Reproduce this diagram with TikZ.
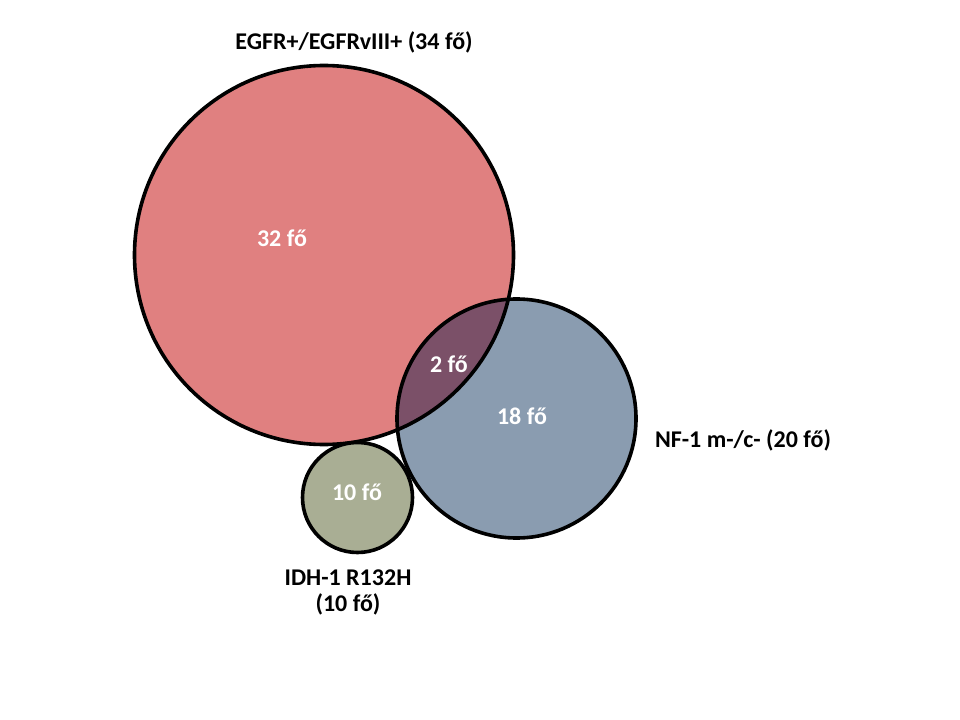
\documentclass[tikz,border=0pt]{standalone}
\usepackage{fontspec}
\setmainfont{Carlito}
\begin{document}
\begin{tikzpicture}[x=0.75pt,y=-0.75pt,
  circ/.style={line width=2.7pt,draw=black},
  lab/.style={font=\fontsize{18}{22}\selectfont\bfseries,text=black,align=center,inner sep=0pt},
  inlab/.style={font=\fontsize{18}{22}\selectfont\bfseries,text=white,inner sep=0pt}]
\useasboundingbox (0,0) rectangle (960,720);
\definecolor{redf}{HTML}{E08080}
\definecolor{bluef}{HTML}{8A9CB0}
\definecolor{purf}{HTML}{7B5068}
\definecolor{greenf}{HTML}{A9AE94}
\coordinate (cr) at (324,255);
\coordinate (cb) at (516.5,418.5);
\coordinate (cg) at (357.5,497.5);
\fill[redf] (cr) circle (189.5);
\fill[bluef] (cb) circle (119.5);
\begin{scope}
\clip (cr) circle (189.5);
\fill[purf] (cb) circle (119.5);
\end{scope}
\draw[circ] (cr) circle (189.5);
\draw[circ] (cb) circle (119.5);
\draw[circ,fill=greenf] (cg) circle (55);
\node[inlab] (n32) at (282,238) {32 fő};
\node[inlab] (n2) at (449,364) {2 fő};
\node[inlab] (n18) at (522,416) {18 fő};
\node[inlab] (n10) at (357,492) {10 fő};
\node[lab] (legfr) at (354,42) {EGFR+/EGFRvIII+ (34 fő)};
\node[lab] (lnf) at (743,440) {NF-1 m-/c- (20 fő)};
\node[lab] (lidh1) at (348,578) {IDH-1 R132H};
\node[lab] (lidh2) at (348,604) {(10 fő)};
\end{tikzpicture}
\end{document}
